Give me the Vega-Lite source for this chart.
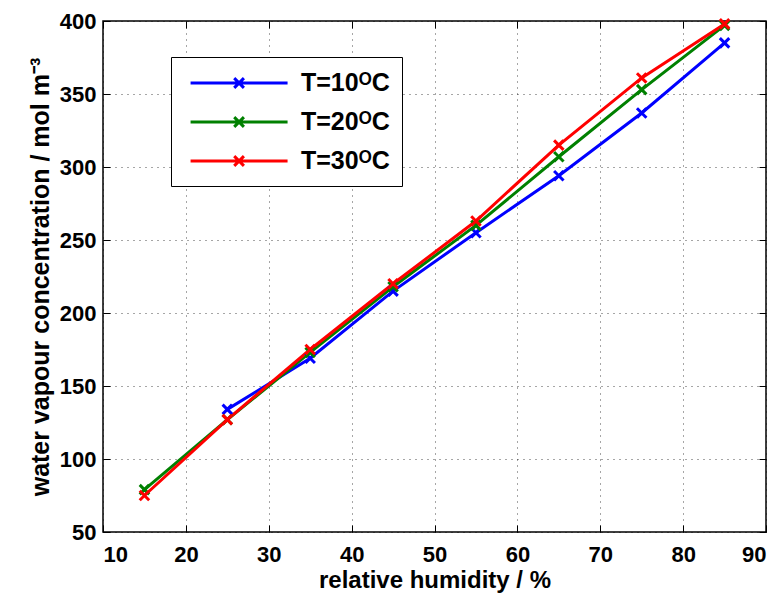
{
  "$schema": "https://vega.github.io/schema/vega-lite/v6.json",
  "width": 663,
  "height": 511,
  "autosize": {"type": "none"},
  "padding": {"left": 103, "top": 21, "right": 4, "bottom": 63},
  "background": "white",
  "config": {
    "view": {"stroke": "black", "strokeWidth": 1.5},
    "font": "Liberation Sans",
    "axis": {
      "labelFont": "Liberation Sans", "labelFontWeight": "bold", "labelFontSize": 22, "labelColor": "black",
      "titleFont": "Liberation Sans", "titleFontWeight": "bold", "titleFontSize": 25, "titleColor": "black",
      "domain": false, "tickColor": "black", "tickSize": -7, "tickWidth": 1,
      "grid": true, "gridColor": "black", "gridDash": [1, 5], "gridOpacity": 0.7, "gridWidth": 1
    }
  },
  "resolve": {"axis": {"x": "independent", "y": "independent"}},
  "data": {
    "values": [
      {"rh": 25, "c": 134, "T": "T=10ᴼC"},
      {"rh": 35, "c": 169, "T": "T=10ᴼC"},
      {"rh": 45, "c": 215, "T": "T=10ᴼC"},
      {"rh": 55, "c": 255, "T": "T=10ᴼC"},
      {"rh": 65, "c": 294, "T": "T=10ᴼC"},
      {"rh": 75, "c": 337, "T": "T=10ᴼC"},
      {"rh": 85, "c": 385, "T": "T=10ᴼC"},
      {"rh": 15, "c": 79, "T": "T=20ᴼC"},
      {"rh": 25, "c": 127, "T": "T=20ᴼC"},
      {"rh": 35, "c": 173, "T": "T=20ᴼC"},
      {"rh": 45, "c": 218, "T": "T=20ᴼC"},
      {"rh": 55, "c": 260, "T": "T=20ᴼC"},
      {"rh": 65, "c": 307, "T": "T=20ᴼC"},
      {"rh": 75, "c": 353, "T": "T=20ᴼC"},
      {"rh": 85, "c": 397, "T": "T=20ᴼC"},
      {"rh": 15, "c": 75, "T": "T=30ᴼC"},
      {"rh": 25, "c": 127, "T": "T=30ᴼC"},
      {"rh": 35, "c": 175, "T": "T=30ᴼC"},
      {"rh": 45, "c": 220, "T": "T=30ᴼC"},
      {"rh": 55, "c": 263, "T": "T=30ᴼC"},
      {"rh": 65, "c": 315, "T": "T=30ᴼC"},
      {"rh": 75, "c": 361, "T": "T=30ᴼC"},
      {"rh": 85, "c": 398, "T": "T=30ᴼC"}
    ]
  },
  "layer": [
    {
      "mark": {"type": "line", "strokeWidth": 3},
      "encoding": {
        "x": {"field": "rh", "type": "quantitative", "scale": {"domain": [10, 90], "nice": false}, "axis": {"title": "relative humidity / %", "titleFontSize": 24, "values": [10,20,30,40,50,60,70,80,90], "labelPadding": 19, "titlePadding": 3}},
        "y": {"field": "c", "type": "quantitative", "scale": {"domain": [50, 400], "nice": false}, "axis": {"title": "water vapour concentration / mol m⁻³", "values": [50,100,150,200,250,300,350,400], "labelPadding": 14, "titlePadding": 6}},
        "color": {"field": "T", "type": "nominal",
          "scale": {"domain": ["T=10ᴼC", "T=20ᴼC", "T=30ᴼC"], "range": ["#0000ff", "#008000", "#ff0000"]},
          "legend": {
            "title": null, "orient": "none", "legendX": 68, "legendY": 36,
            "strokeColor": "black", "fillColor": "white", "padding": 12,
            "symbolType": "M-0.53,0L7.47,0M3.07,-0.4L3.87,0.4M3.07,0.4L3.87,-0.4",
            "symbolSize": 588, "symbolStrokeWidth": 3, "symbolFillColor": "transparent",
            "labelFontSize": 25, "labelFontWeight": "bold", "labelColor": "black", "labelFont": "Liberation Sans",
            "labelOffset": 90, "rowPadding": 12
          }
        }
      }
    },
    {
      "mark": {"type": "point", "shape": "M-1,-1L1,1M-1,1L1,-1", "filled": false, "strokeWidth": 3, "size": 90, "opacity": 1},
      "encoding": {
        "x": {"field": "rh", "type": "quantitative", "axis": {"orient": "top", "labels": false, "title": null, "grid": false, "values": [10,20,30,40,50,60,70,80,90]}},
        "y": {"field": "c", "type": "quantitative", "axis": {"orient": "right", "labels": false, "title": null, "grid": false, "values": [50,100,150,200,250,300,350,400]}},
        "color": {"field": "T", "type": "nominal", "legend": null}
      }
    }
  ]
}
